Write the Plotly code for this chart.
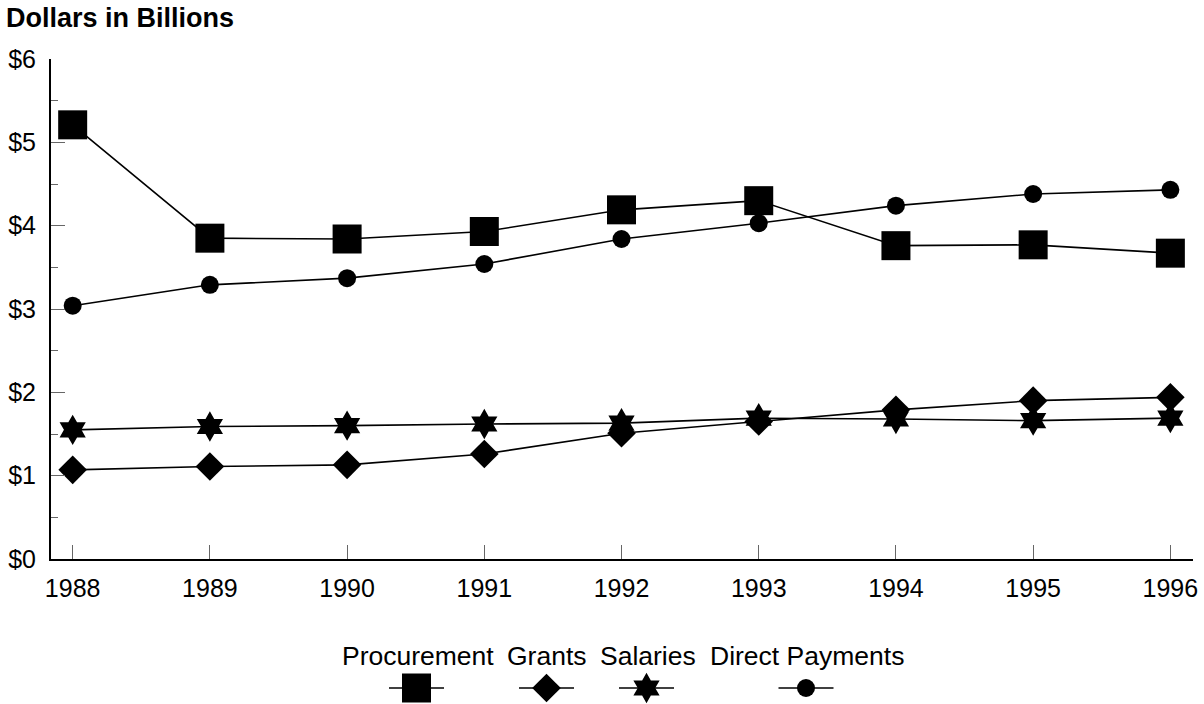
import plotly.graph_objects as go

# ---- data ----
years = [1988, 1989, 1990, 1991, 1992, 1993, 1994, 1995, 1996]
procurement = [5.21, 3.85, 3.84, 3.93, 4.19, 4.30, 3.76, 3.77, 3.67]
grants = [1.07, 1.11, 1.13, 1.26, 1.51, 1.65, 1.79, 1.90, 1.94]
salaries = [1.55, 1.59, 1.60, 1.62, 1.63, 1.69, 1.68, 1.66, 1.69]
direct_payments = [3.04, 3.29, 3.37, 3.54, 3.84, 4.03, 4.24, 4.38, 4.43]
series_names = ["Procurement", "Grants", "Salaries", "Direct Payments"]
y_tick_vals = [0, 1, 2, 3, 4, 5, 6]
y_tick_text = ["$0", "$1", "$2", "$3", "$4", "$5", "$6"]

# ---- style ----
W, H = 1204, 704
FONT = "Liberation Sans, Arial, sans-serif"
symbols = ["square", "diamond", "hexagram", "circle"]
sizes = [29, 22, 23, 18]
# legend layout (pixels)
legend_text_x = [417.5, 546.5, 647.5, 806.5]
legend_mark_x = [416.5, 546.5, 646.5, 806.0]
legend_text_y = 656
legend_mark_y = 688
legend_half = 27.5

# plot area in pixels
left, right, top, bottom = 51, 1193, 59, 559

fig = go.Figure()
all_series = [procurement, grants, salaries, direct_payments]
for name, vals, sym, sz in zip(series_names, all_series, symbols, sizes):
    fig.add_trace(go.Scatter(
        x=years, y=vals, name=name, mode="lines+markers",
        line=dict(color="black", width=1.6),
        marker=dict(symbol=sym, size=sz, color="black", opacity=1, line=dict(width=0)),
        showlegend=False, cliponaxis=False,
    ))

# custom legend glyphs (text above, marker below)
for name, sym, sz, mx in zip(series_names, symbols, sizes, legend_mark_x):
    fig.add_trace(go.Scatter(
        x=[mx - legend_half, mx + legend_half],
        y=[legend_mark_y] * 2,
        mode="lines",
        line=dict(color="black", width=1.6),
        xaxis="x2", yaxis="y2", showlegend=False, hoverinfo="skip",
    ))
    fig.add_trace(go.Scatter(
        x=[mx], y=[legend_mark_y], mode="markers",
        marker=dict(symbol=sym, size=sz, color="black", opacity=1, line=dict(width=0)),
        xaxis="x2", yaxis="y2", showlegend=False, hoverinfo="skip",
        cliponaxis=False,
    ))

annotations = [dict(
    text="<b>Dollars in Billions</b>", x=4 / W, y=1 - 1 / H,
    xref="paper", yref="paper", xanchor="left", yanchor="top",
    showarrow=False, font=dict(family=FONT, size=27, color="black"),
)]
for name, tx in zip(series_names, legend_text_x):
    annotations.append(dict(
        text=name, x=tx / W, y=1 - legend_text_y / H,
        xref="paper", yref="paper", xanchor="center", yanchor="middle",
        showarrow=False, font=dict(family=FONT, size=26.5, color="black"),
    ))

fig.update_layout(
    template="none",
    width=W, height=H, autosize=False,
    margin=dict(l=0, r=0, t=0, b=0, pad=0, autoexpand=False),
    paper_bgcolor="white", plot_bgcolor="rgba(0,0,0,0)",
    font=dict(family=FONT, size=25, color="black"),
    annotations=annotations,
    xaxis=dict(
        domain=[left / W, right / W],
        range=[1987.842, 1996.165], automargin=False,
        tickvals=years, ticks="inside", ticklen=14, tickwidth=1, tickcolor="#666",
        showline=True, linecolor="black", linewidth=2,
        showgrid=False, zeroline=False, ticklabelstandoff=6,
        tickfont=dict(family=FONT, size=25, color="black"),
        anchor="y",
    ),
    yaxis=dict(
        domain=[1 - bottom / H, 1 - top / H],
        range=[0, 6], automargin=False,
        tickvals=y_tick_vals, ticktext=y_tick_text,
        ticks="inside", ticklen=14, tickwidth=1, tickcolor="#666",
        minor=dict(dtick=0.5, ticks="inside", ticklen=7, tickwidth=1, tickcolor="#666"),
        showline=True, linecolor="black", linewidth=2,
        showgrid=False, zeroline=False, ticklabelstandoff=8,
        tickfont=dict(family=FONT, size=25, color="black"),
        anchor="x",
    ),
    xaxis2=dict(domain=[0, 1], range=[0, W], visible=False, anchor="y2",
                fixedrange=True, automargin=False),
    yaxis2=dict(domain=[0, 1], range=[H, 0], visible=False, anchor="x2",
                fixedrange=True, automargin=False),
)

fig.write_html("out.html", config={"displayModeBar": False},
               post_script="document.body.style.margin='0';")
